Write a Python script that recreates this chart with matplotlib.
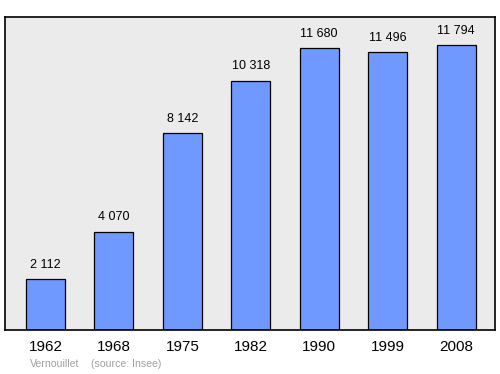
import matplotlib
matplotlib.use("Agg")
import matplotlib.pyplot as plt

years = ["1962", "1968", "1975", "1982", "1990", "1999", "2008"]
population = [2112, 4070, 8142, 10318, 11680, 11496, 11794]
labels = ["2 112", "4 070", "8 142", "10 318", "11 680", "11 496", "11 794"]

plt.rcParams["font.family"] = ["Liberation Sans", "DejaVu Sans"]

fig = plt.figure(figsize=(5, 3.74), dpi=100)
ax = fig.add_axes([0.01, 0.1176, 0.98, 0.8369])
ax.set_facecolor("#ebebeb")

x = range(len(years))
ax.bar(x, population, width=0.57, color="#7099ff", edgecolor="black", linewidth=0.9)

for i, (v, lab) in enumerate(zip(population, labels)):
    ax.annotate(lab, (i, v), xytext=(0, 6), textcoords="offset points",
                ha="center", va="bottom", fontsize=9)

ax.set_xlim(-0.592, 6.57)
ax.set_ylim(0, 12960)
ax.set_yticks([])
ax.set_xticks(list(x))
ax.set_xticklabels(years, fontsize=11)
ax.tick_params(axis="x", length=0, pad=7)
for s in ax.spines.values():
    s.set_linewidth(1.2)

fig.text(0.06, 0.018, "Vernouillet", fontsize=7.6, color="#a0a0a0")
fig.text(0.182, 0.018, "(source: Insee)", fontsize=7.6, color="#a0a0a0")

fig.savefig("out.png", dpi=100)
